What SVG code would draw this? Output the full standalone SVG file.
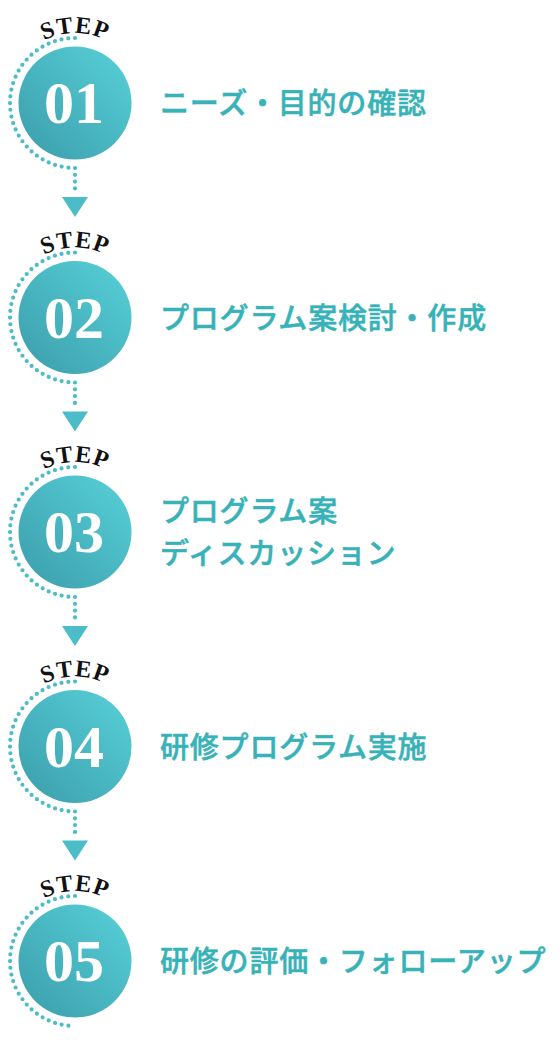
<svg xmlns="http://www.w3.org/2000/svg" width="560" height="1040" viewBox="0 0 560 1040">
<style>
.num{font-family:"Liberation Serif","Times New Roman",serif;font-size:60px;font-weight:bold;fill:#ffffff;text-anchor:middle}
.step{font-family:"Liberation Serif","Times New Roman",serif;font-size:24px;font-weight:bold;fill:#111111;letter-spacing:1px}
.lbl{font-family:"Noto Sans CJK JP","Noto Sans",sans-serif;font-size:29px;font-weight:500;fill:#37B2B8;stroke:#37B2B8;stroke-width:0.5px;letter-spacing:0.8px}
.dots{fill:none;stroke:#4BBCC8;stroke-width:4.2;stroke-linecap:round;stroke-dasharray:0 6.8}
.arrow{fill:#4BBCC8}
</style>
<defs>
<linearGradient id="g" x1="0" y1="1" x2="1" y2="0">
<stop offset="0" stop-color="#3A9DAA"/>
<stop offset="1" stop-color="#58D1D9"/>
</linearGradient>
<path id="arc" d="M14.4,68 A70,70 0 0 1 135.6,68"/>
<g id="badge">
<path class="dots" d="M75,38 A65,65 0 0 0 75,168"/>
<circle cx="75" cy="103" r="56.5" fill="url(#g)"/>
<text class="step"><textPath href="#arc" startOffset="50%" text-anchor="middle">STEP</textPath></text>
</g>
</defs>
<g id="step1">
<use href="#badge"/>
<text class="num" x="74" y="123">01</text>
<text class="lbl" x="160" y="114">ニーズ・目的の確認</text>
</g>
<g id="step2" transform="translate(0,214.5)">
<use href="#badge"/>
<text class="num" x="74" y="123">02</text>
<text class="lbl" x="160" y="114">プログラム案検討・作成</text>
</g>
<g id="step3" transform="translate(0,429)">
<use href="#badge"/>
<text class="num" x="74" y="123">03</text>
<text class="lbl" x="160" y="93">プログラム案</text>
<text class="lbl" x="160" y="135">ディスカッション</text>
</g>
<g id="step4" transform="translate(0,643.5)">
<use href="#badge"/>
<text class="num" x="74" y="123">04</text>
<text class="lbl" x="160" y="114">研修プログラム実施</text>
</g>
<g id="step5" transform="translate(0,858)">
<use href="#badge"/>
<text class="num" x="74" y="123">05</text>
<text class="lbl" x="160" y="114">研修の評価・フォローアップ</text>
</g>
<g id="connectors">
<g id="c1">
<path class="dots" d="M75,168 L75,191"/>
<polygon class="arrow" points="62,197 88,197 75,217"/>
</g>
<g id="c2" transform="translate(0,214.5)">
<path class="dots" d="M75,168 L75,191"/>
<polygon class="arrow" points="62,197 88,197 75,217"/>
</g>
<g id="c3" transform="translate(0,429)">
<path class="dots" d="M75,168 L75,191"/>
<polygon class="arrow" points="62,197 88,197 75,217"/>
</g>
<g id="c4" transform="translate(0,643.5)">
<path class="dots" d="M75,168 L75,191"/>
<polygon class="arrow" points="62,197 88,197 75,217"/>
</g>
</g>
</svg>
